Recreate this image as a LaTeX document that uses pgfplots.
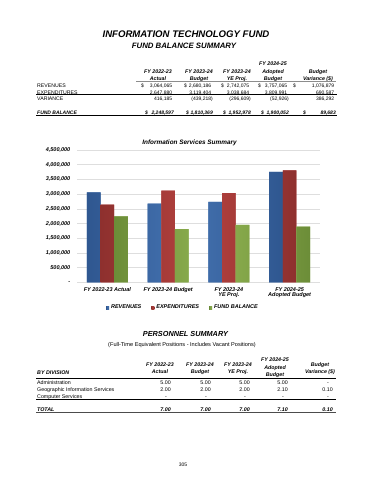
\documentclass[border=0pt]{standalone}
\usepackage{pgfplots}
\pgfplotsset{compat=1.18}
\usepackage{fontspec}
\setmainfont{Liberation Sans}
\definecolor{bluel}{HTML}{4472B0}
\definecolor{blued}{HTML}{2F5790}
\definecolor{redl}{HTML}{B5423F}
\definecolor{redd}{HTML}{8E302E}
\definecolor{greenl}{HTML}{8FB251}
\definecolor{greend}{HTML}{6C8D38}
\newcommand\fs[1]{\fontsize{#1bp}{#1bp}\selectfont}
\newcommand\bi{\bfseries\itshape}
\newcommand\Tx[4]{\node[anchor=#1,inner sep=0pt] at (#2,480-#3) {#4};}
\newcommand\Ph{\phantom{)}}
\begin{document}
\begin{tikzpicture}[x=1bp,y=1bp]
\path[fill=white] (0,0) rectangle (370,480);
% ---------- titles
\node[anchor=mid,inner sep=0pt,font=\bi\fs{9.6}] at (186,480-35) {INFORMATION TECHNOLOGY FUND};
\node[anchor=mid,inner sep=0pt,font=\bi\fs{7.8}] at (184,480-45.5) {FUND BALANCE SUMMARY};
% ---------- table 1 headers
\begin{scope}[font=\bi\fs{5.3}]
\Tx{mid}{273}{63.3}{FY 2024-25}
\Tx{mid}{158}{70.7}{FY 2022-23}
\Tx{mid}{199}{70.7}{FY 2023-24}
\Tx{mid}{237}{70.7}{FY 2023-24}
\Tx{mid}{273}{70.7}{Adopted}
\Tx{mid}{318}{70.7}{Budget}
\Tx{mid}{158}{78}{Actual}
\Tx{mid}{199}{78}{Budget}
\Tx{mid}{237}{78}{YE Proj.}
\Tx{mid}{273}{78}{Budget}
\Tx{mid}{318}{78}{Variance (\$)}
\end{scope}
\draw[black!45,line width=0.4bp] (136,480-81.3) -- (336,480-81.3);
% ---------- table 1 body
\begin{scope}[font=\fs{5.2}]
\Tx{mid west}{37}{85}{REVENUES}
\Tx{mid west}{37}{91.7}{EXPENDITURES}
\Tx{mid west}{37}{98.3}{VARIANCE}
\end{scope}
\begin{scope}[font=\fs{5}]
\Tx{mid west}{141}{85}{\$}\Tx{mid east}{174}{85}{3,064,065\Ph}
\Tx{mid west}{184}{85}{\$}\Tx{mid east}{213}{85}{2,680,186\Ph}
\Tx{mid west}{221}{85}{\$}\Tx{mid east}{251}{85}{2,742,075\Ph}
\Tx{mid west}{258}{85}{\$}\Tx{mid east}{289}{85}{3,757,065\Ph}
\Tx{mid west}{293}{85}{\$}\Tx{mid east}{336}{85}{1,076,879\Ph}
\Tx{mid east}{174}{91.7}{2,647,880\Ph}
\Tx{mid east}{213}{91.7}{3,119,404\Ph}
\Tx{mid east}{251}{91.7}{3,038,684\Ph}
\Tx{mid east}{289}{91.7}{3,809,991\Ph}
\Tx{mid east}{336}{91.7}{690,587\Ph}
\Tx{mid east}{174}{98.3}{416,185\Ph}
\Tx{mid east}{213}{98.3}{(439,218)}
\Tx{mid east}{251}{98.3}{(296,609)}
\Tx{mid east}{289}{98.3}{(52,926)}
\Tx{mid east}{336}{98.3}{386,292\Ph}
\end{scope}
\draw[black,line width=0.4bp] (36,480-94.7) -- (337,480-94.7);
\begin{scope}[font=\bi\fs{5}]
\Tx{mid west}{37}{111.7}{FUND BALANCE}
\Tx{mid west}{145}{111.7}{\$}\Tx{mid east}{174}{111.7}{2,248,597}
\Tx{mid west}{186}{111.7}{\$}\Tx{mid east}{213}{111.7}{1,810,369}
\Tx{mid west}{223}{111.7}{\$}\Tx{mid east}{251}{111.7}{1,952,978}
\Tx{mid west}{261}{111.7}{\$}\Tx{mid east}{289}{111.7}{1,900,052}
\Tx{mid west}{303}{111.7}{\$}\Tx{mid east}{336}{111.7}{89,683}
\end{scope}
\draw[black,line width=1.1bp] (36,480-115.3) -- (337,480-115.3);
% ---------- chart
\node[anchor=mid,inner sep=0pt,font=\bi\fs{6.4}] at (189.5,480-142.3) {Information Services Summary};
\begin{axis}[
  at={(77bp,197.5bp)}, anchor=south west,
  width=243bp, height=132.5bp, scale only axis,
  xmin=-0.5, xmax=3.5, ymin=0, ymax=4500000,
  ybar=0pt, bar width=13.6bp,
  axis line style={draw=none},
  major tick length=0pt,
  ymajorgrids, grid style={draw=black!13, line width=0.6bp},
  ytick={0,500000,1000000,1500000,2000000,2500000,3000000,3500000,4000000,4500000},
  yticklabels={{-\hspace{2.5bp}},{500,000},{1,000,000},{1,500,000},{2,000,000},{2,500,000},{3,000,000},{3,500,000},{4,000,000},{4,500,000}},
  scaled y ticks=false,
  xtick={0,1,2,3},
  xticklabels={{FY 2022-23 Actual},{FY 2023-24 Budget},{FY 2023-24\\YE Proj.},{FY 2024-25\\Adopted Budget}},
  xticklabel style={align=center, font=\bi\fs{5.5}, yshift=-1.5bp},
  yticklabel style={font=\bi\fs{5.5}, xshift=-3.2bp},
  legend style={at={(0.436,-0.189)}, anchor=center, draw=none, fill=none,
    legend columns=3, font=\bi\fs{5.5},
    /tikz/every even column/.append style={column sep=8bp}},
  legend image code/.code={\fill[#1] (0.4bp,-1.5bp) rectangle (3.4bp,1.5bp);},
  clip=false,
]
\addplot[draw=none, fill=bluel, left color=blued, right color=blued, middle color=bluel]
  coordinates {(0,3064065) (1,2680186) (2,2742075) (3,3757065)};
\addplot[draw=none, fill=redl, left color=redd, right color=redd, middle color=redl]
  coordinates {(0,2647880) (1,3119404) (2,3038684) (3,3809991)};
\addplot[draw=none, fill=greenl, left color=greend, right color=greend, middle color=greenl]
  coordinates {(0,2248597) (1,1810369) (2,1952978) (3,1900052)};
\legend{REVENUES, EXPENDITURES, FUND BALANCE}
\end{axis}
% ---------- personnel
\node[anchor=mid,inner sep=0pt,font=\bi\fs{7.3}] at (185.5,480-334.3) {PERSONNEL SUMMARY};
\node[anchor=mid,inner sep=0pt,font=\fs{5.6}] at (182,480-344) {(Full-Time Equivalent Positions - Includes Vacant Positions)};
\begin{scope}[font=\bi\fs{5.3}]
\Tx{mid}{275}{359.3}{FY 2024-25}
\Tx{mid}{275}{366.7}{Adopted}
\Tx{mid}{275}{374}{Budget}
\Tx{mid}{160}{363.5}{FY 2022-23}
\Tx{mid}{200}{363.5}{FY 2023-24}
\Tx{mid}{238}{363.5}{FY 2023-24}
\Tx{mid}{320}{363.5}{Budget}
\Tx{mid}{160}{370.7}{Actual}
\Tx{mid}{200}{370.7}{Budget}
\Tx{mid}{238}{370.7}{YE Proj.}
\Tx{mid}{320}{370.7}{Variance (\$)}
\Tx{mid west}{37}{371.5}{BY DIVISION}
\end{scope}
\draw[black,line width=0.4bp] (36,480-378.3) -- (336,480-378.3);
\begin{scope}[font=\fs{5.3}]
\Tx{mid west}{37}{382}{Administration}
\Tx{mid west}{37}{389.3}{Geographic Information Services}
\Tx{mid west}{37}{396}{Computer Services}
\end{scope}
\begin{scope}[font=\fs{5.3}]
\Tx{mid east}{171}{382}{5.00}\Tx{mid east}{211}{382}{5.00}\Tx{mid east}{250}{382}{5.00}\Tx{mid east}{288}{382}{5.00}\Tx{mid east}{329}{382}{-}
\Tx{mid east}{171}{389.3}{2.00}\Tx{mid east}{211}{389.3}{2.00}\Tx{mid east}{250}{389.3}{2.00}\Tx{mid east}{288}{389.3}{2.10}\Tx{mid east}{333}{389.3}{0.10}
\Tx{mid east}{167}{396}{-}\Tx{mid east}{207}{396}{-}\Tx{mid east}{246}{396}{-}\Tx{mid east}{284}{396}{-}\Tx{mid east}{329}{396}{-}
\end{scope}
\draw[black,line width=0.4bp] (36,480-399.3) -- (336,480-399.3);
\begin{scope}[font=\bi\fs{5.3}]
\Tx{mid west}{37}{409.3}{TOTAL}
\Tx{mid east}{171}{409.3}{7.00}\Tx{mid east}{211}{409.3}{7.00}\Tx{mid east}{250}{409.3}{7.00}\Tx{mid east}{288}{409.3}{7.10}\Tx{mid east}{333}{409.3}{0.10}
\end{scope}
\draw[black!70,line width=1.3bp] (36,480-412.7) -- (336,480-412.7);
\node[anchor=mid,inner sep=0pt,font=\fs{5}] at (183,480-464.3) {305};
\end{tikzpicture}
\end{document}
